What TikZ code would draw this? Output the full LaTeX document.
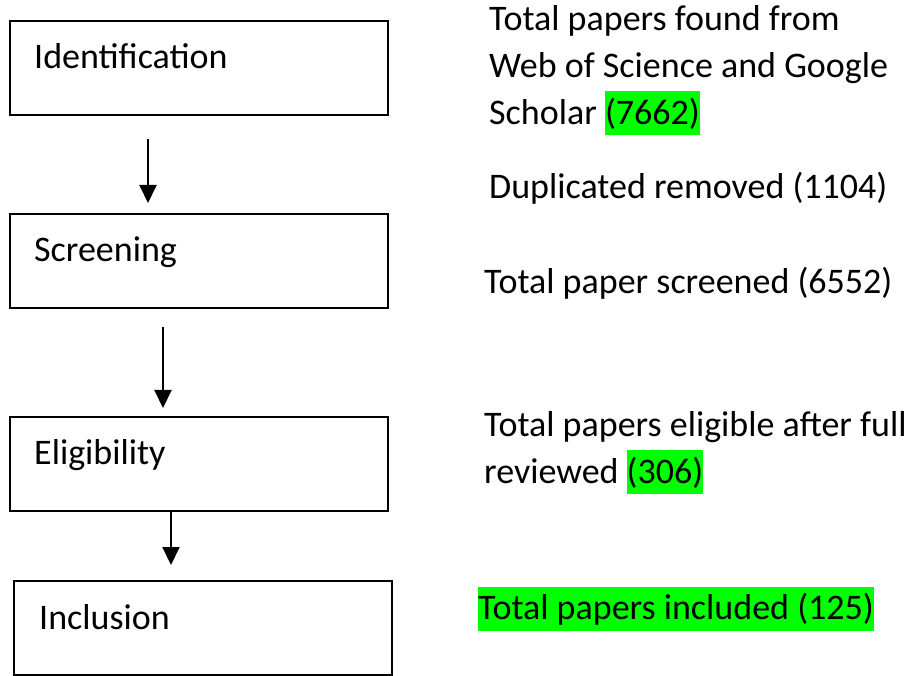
\documentclass[tikz,border=0pt]{standalone}
\usepackage{fontspec}
\setmainfont{Carlito}
\usetikzlibrary{arrows.meta}
\definecolor{hlgreen}{RGB}{0,255,0}
\newcommand{\hlg}[1]{{\setlength{\fboxsep}{0pt}\colorbox{hlgreen}{\rule[-11pt]{0pt}{44pt}#1}}}
\tikzset{
  box/.style={draw, line width=2pt, minimum width=378pt, minimum height=94pt, inner sep=0pt},
  lbl/.style={anchor=base west, inner sep=0pt, font=\fontsize{36}{47}\selectfont},
  arr/.style={line width=2pt, -{Triangle[length=18pt,width=17pt]}}
}
\begin{document}
\begin{tikzpicture}[x=1pt,y=-1pt]
\useasboundingbox (0,0) rectangle (914,676);
% boxes
\node[box, anchor=north west] (id) at (9,20) {};
\node[box, anchor=north west] (sc) at (9,213) {};
\node[box, anchor=north west] (el) at (9,416) {};
\node[box, anchor=north west] (in) at (13,580) {};
% box labels
\node[lbl] (idt) at (34,68.5) {Identification};
\node[lbl] (sct) at (34,261.5) {Screening};
\node[lbl] (elt) at (34,464.5) {Eligibility};
\node[lbl] (int) at (39,629.5) {Inclusion};
% arrow columns
\coordinate (a1) at (148,0);
\coordinate (a2) at (163,0);
\coordinate (a3) at (171,0);
\draw[arr, shorten <=23pt, shorten >=10pt] (id.south -| a1) -- (sc.north -| a1);
\draw[arr, shorten <=18pt, shorten >=8pt] (sc.south -| a2) -- (el.north -| a2);
\draw[arr, shorten >=15pt] (el.south -| a3) -- (in.north -| a3);
% right texts
\node[lbl] (r1a) at (489,30.5) {Total papers found from};
\node[lbl] (r1b) at (489,77.5) {Web of Science and Google};
\node[lbl] (r1c) at (489,124.5) {Scholar \hlg{(7662)}};
\node[lbl] (r2) at (489,198.5) {Duplicated removed (1104)};
\node[lbl] (r3) at (484,293.5) {Total paper screened (6552)};
\node[lbl] (r4a) at (484,436.5) {Total papers eligible after full};
\node[lbl] (r4b) at (484,483.5) {reviewed \hlg{(306)}};
\node[lbl] (r5) at (478,619.5) {\hlg{Total papers included (125)}};
\end{tikzpicture}
\end{document}
